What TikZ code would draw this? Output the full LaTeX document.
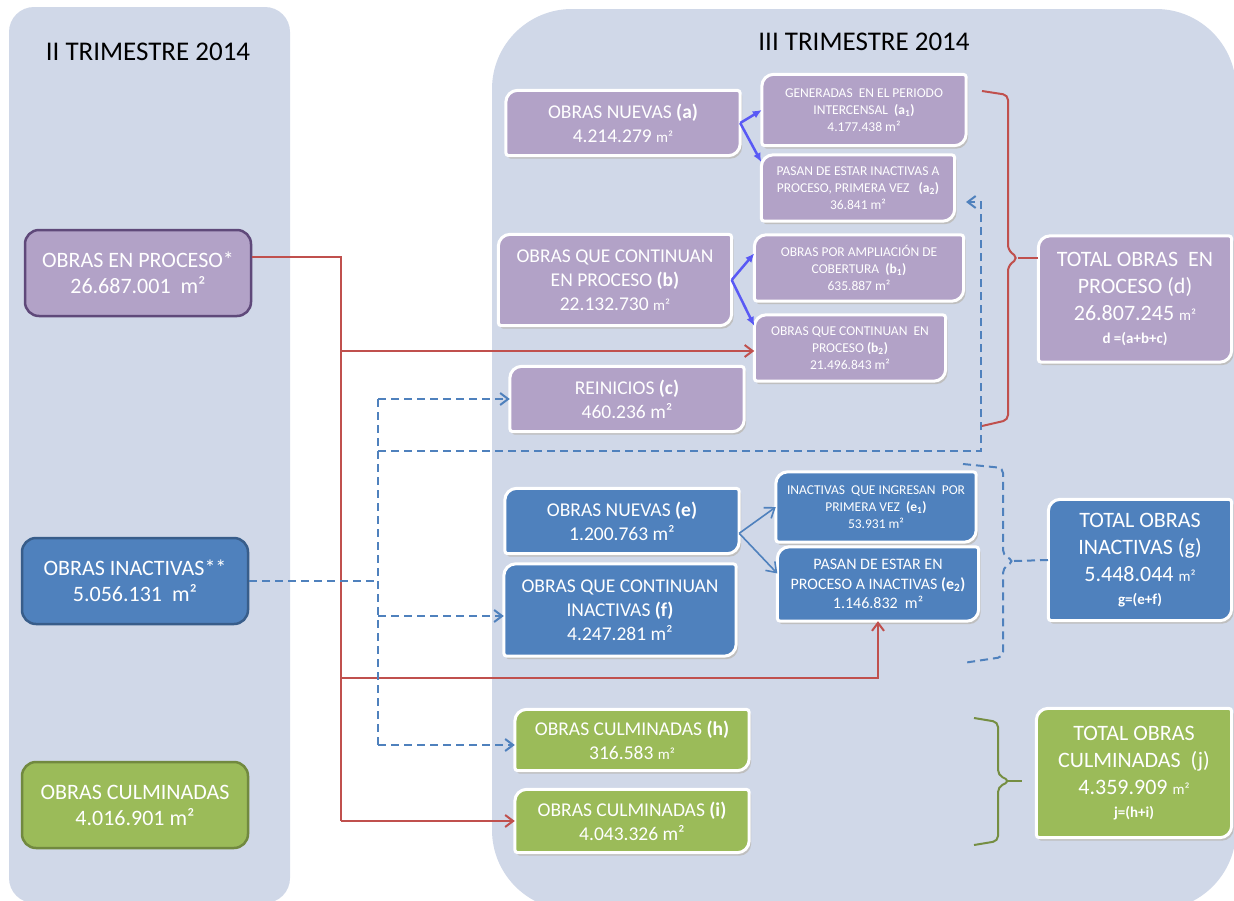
\documentclass[tikz,border=0pt]{standalone}
\usepackage{fontspec}
\setmainfont{Carlito}
\usepackage{tikz}
\usetikzlibrary{arrows.meta, positioning, calc}

\definecolor{panel}{RGB}{208,216,232}
\definecolor{purp}{HTML}{B2A2C7}
\definecolor{purpdark}{HTML}{5F497A}
\definecolor{blu}{HTML}{4F81BD}
\definecolor{bludark}{HTML}{385D8A}
\definecolor{grn}{HTML}{9BBB59}
\definecolor{grndark}{HTML}{71893F}
\definecolor{redl}{HTML}{C0504D}
\definecolor{violet}{RGB}{89,89,245}

\pgfdeclarelayer{back}
\pgfsetlayers{back,main}

\tikzstyle{lbox} = [rectangle, rounded corners=14pt, line width=2.5pt, text=white, align=center, minimum width=226pt, minimum height=86pt, font=\fontsize{22}{26}\selectfont]
\tikzstyle{rbox} = [rectangle, text=white, align=center, inner sep=2pt]
\tikzstyle{big} = [rbox, font=\fontsize{19.5}{24}\selectfont]
\tikzstyle{small} = [rbox, font=\fontsize{13.5}{17}\selectfont]
\tikzstyle{total} = [rbox, font=\fontsize{22}{27}\selectfont]
\tikzstyle{title} = [font=\fontsize{27}{30}\selectfont]
\tikzstyle{redline} = [redl, line width=2pt]
\tikzstyle{redarrow} = [redline, -{Straight Barb[length=8pt,width=12pt]}]
\tikzstyle{dashline} = [blu, line width=2pt, dash pattern=on 8pt off 5pt]
\tikzstyle{dasharrow} = [dashline, -{Straight Barb[length=8pt,width=12pt]}]
\tikzstyle{thinarrow} = [blu, line width=1.6pt, -{Straight Barb[length=9pt,width=13pt]}]
\tikzstyle{splitarrow} = [violet, line width=2.5pt, -{Latex[length=9pt,width=8pt]}]
\tikzstyle{grnline} = [grndark!90!grn, line width=2pt]

\newcommand{\sqm}{{\fontsize{15}{15}\selectfont m²}}
\newcommand{\formula}[1]{{\fontsize{15}{17}\selectfont\bfseries #1}}
% box with two rounded corners (top left, bottom right)
\newcommand{\diagpath}[1]{(#1.west) [rounded corners=12pt] |- (#1.north) [rounded corners=3pt] -| (#1.east) [rounded corners=12pt] |- (#1.south) [rounded corners=3pt] -| (#1.west) -- cycle}

\begin{document}
\begin{tikzpicture}[x=1pt, y=-1pt]

\useasboundingbox (0,0) rectangle (1234,900);
\begin{pgfonlayer}{back}
\fill[white] (0,0) rectangle (1234,900);
\fill[panel, rounded corners=25pt] (9,7) rectangle (290,903);
\fill[panel, rounded corners=80pt] (492,9) rectangle (1236,910);
\end{pgfonlayer}

\node[title] (t2) at (148,52) {II TRIMESTRE 2014};
\node[title] (t3) at (864,42) {III TRIMESTRE 2014};

% II trimestre
\node[lbox, fill=purp, draw=purpdark] (p0) at (138,273) {OBRAS EN PROCESO*\\26.687.001~ m²};
\node[lbox, fill=blu, draw=bludark] (i0) at (135,581) {OBRAS INACTIVAS**\\5.056.131~ m²};
\node[lbox, fill=grn, draw=grndark] (c0) at (135,805) {OBRAS CULMINADAS\\4.016.901 m²};

% III trimestre - en proceso
\node[big, minimum width=234pt, minimum height=65pt] (na) at (623,123) {OBRAS NUEVAS \textbf{(a)}\\4.214.279 \sqm};
\node[small, minimum width=204pt, minimum height=71pt] (na1) at (864,110) {GENERADAS~ EN EL PERIODO\\INTERCENSAL~ \textbf{(a\textsubscript{1})}\\4.177.438 m²};
\node[small, minimum width=193pt, minimum height=66pt] (na2) at (858,188) {PASAN DE ESTAR INACTIVAS A\\PROCESO, PRIMERA VEZ~~ \textbf{(a\textsubscript{2})}\\36.841 m²};
\node[big, minimum width=233pt, minimum height=91pt] (nb) at (615,280) {OBRAS QUE CONTINUAN\\EN PROCESO \textbf{(b)}\\22.132.730 \sqm};
\node[small, minimum width=209pt, minimum height=66pt] (nb1) at (859,268) {OBRAS POR AMPLIACIÓN DE\\COBERTURA~ \textbf{(b\textsubscript{1})}\\635.887 m²};
\node[small, minimum width=191pt, minimum height=66pt] (nb2) at (850,348) {OBRAS QUE CONTINUAN~ EN\\PROCESO \textbf{(b\textsubscript{2})}\\21.496.843 m²};
\node[big, minimum width=234pt, minimum height=65pt] (nc) at (627,399) {REINICIOS \textbf{(c)}\\460.236 m²};
\node[total, minimum width=193pt, minimum height=126pt] (nd) at (1135,299) {TOTAL OBRAS~ EN\\PROCESO (d)\\26.807.245 \sqm\\[-4pt]\formula{d =(a+b+c)}};

% III trimestre - inactivas
\node[big, minimum width=234pt, minimum height=65pt] (ne) at (622,521) {OBRAS NUEVAS \textbf{(e)}\\1.200.763 m²};
\node[big, minimum width=232pt, minimum height=92pt] (nf) at (620,610) {OBRAS QUE CONTINUAN\\INACTIVAS \textbf{(f)}\\4.247.281 m²};
\node[small, minimum width=200pt, minimum height=70pt] (ne1) at (876,507) {INACTIVAS~ QUE INGRESAN~ POR\\PRIMERA VEZ~ \textbf{(e\textsubscript{1})}\\53.931 m²};
\node[small, font=\fontsize{16}{19.5}\selectfont, minimum width=201pt, minimum height=74pt] (ne2) at (878,584) {PASAN DE ESTAR EN\\PROCESO A INACTIVAS \textbf{(e\textsubscript{2})}\\1.146.832~ m²};
\node[total, minimum width=183pt, minimum height=121pt] (ng) at (1140,560) {TOTAL OBRAS\\INACTIVAS (g)\\5.448.044 \sqm\\[-4pt]\formula{g=(e+f)}};

% III trimestre - culminadas
\node[big, minimum width=234pt, minimum height=61pt] (nh) at (632,740) {OBRAS CULMINADAS \textbf{(h)}\\316.583 \sqm};
\node[big, minimum width=234pt, minimum height=63pt] (ni) at (632,821) {OBRAS CULMINADAS \textbf{(i)}\\4.043.326 m²};
\node[total, minimum width=195pt, minimum height=129pt] (nj) at (1134,773) {TOTAL OBRAS\\CULMINADAS~ (j)\\4.359.909 \sqm\\[-4pt]\formula{j=(h+i)}};

\begin{pgfonlayer}{back}
\foreach \n/\c in {na/purp, na1/purp, na2/purp, nb/purp, nb1/purp, nb2/purp, nc/purp, nd/purp,
                   ne/blu, nf/blu, ne1/blu, ne2/blu, ng/blu, nh/grn, ni/grn, nj/grn}{
  \fill[black!25, transform canvas={shift={(2pt,-3pt)}}] \diagpath{\n};
  \filldraw[fill=\c, draw=white, line width=3pt] \diagpath{\n};
}
\end{pgfonlayer}

% splits
\draw[splitarrow] (na.east) -- (na1.west);
\draw[splitarrow] (na.east) -- (na2.165);
\draw[splitarrow] (nb.east) -- (nb1.172);
\draw[splitarrow] (nb.east) -- (nb2.167);
\draw[thinarrow] (ne.354) -- (ne1.west);
\draw[thinarrow] (ne.354) -- (ne2.174);

% en proceso -> III trimestre
\coordinate (r0) at (341,257);
\coordinate (r1) at (341,351);
\coordinate (r2) at (341,678);
\coordinate (r3) at (341,821);
\draw[redline] (p0.east |- r0) -- (r0) -- (r3);
\draw[redarrow] (r1) -- (r1 -| nb2.west);
\draw[redarrow] (r2) -| (ne2.south);
\draw[redarrow] (r3) -- (ni.west);

% inactivas -> III trimestre
\coordinate (b1) at (378,399);
\coordinate (b2) at (378,451);
\coordinate (b3) at (378,616);
\coordinate (b4) at (378,745);
\coordinate (bturn) at (981,451);
\coordinate (a2in) at (966,202);
\draw[dashline] (i0.east) -- (i0.east -| b1);
\draw[dashline] (b1) -- (b4);
\draw[dasharrow] (b1) -- (nc.west);
\draw[dasharrow] (b3) -- (b3 -| nf.west);
\draw[dasharrow] (b4) -- (b4 -| nh.west);
\draw[dasharrow] (b2) -- (bturn) |- (a2in);

% braces
\coordinate (dtip) at (1018,258);
\draw[redline, rounded corners=5pt] (982,91) -- (1008,95) -- (1008,250) -- (dtip) -- (1008,266) -- (1008,420) -- (982,426);
\draw[redline] (dtip) -- (dtip -| nd.west);
\coordinate (gtip) at (1014,561);
\draw[dashline, rounded corners=5pt] (963,464) -- (1003,468) -- (1003,555) -- (gtip) -- (1003,568) -- (1003,657) -- (963,663);
\draw[dashline] (gtip) -- (ng.west);
\draw[grnline, rounded corners=5pt] (974,718) -- (998,722) -- (998,775) -- (1010,781) -- (998,787) -- (998,841) -- (974,845);
\draw[grnline] (1008,781) -- (1022,781);

\end{tikzpicture}
\end{document}
